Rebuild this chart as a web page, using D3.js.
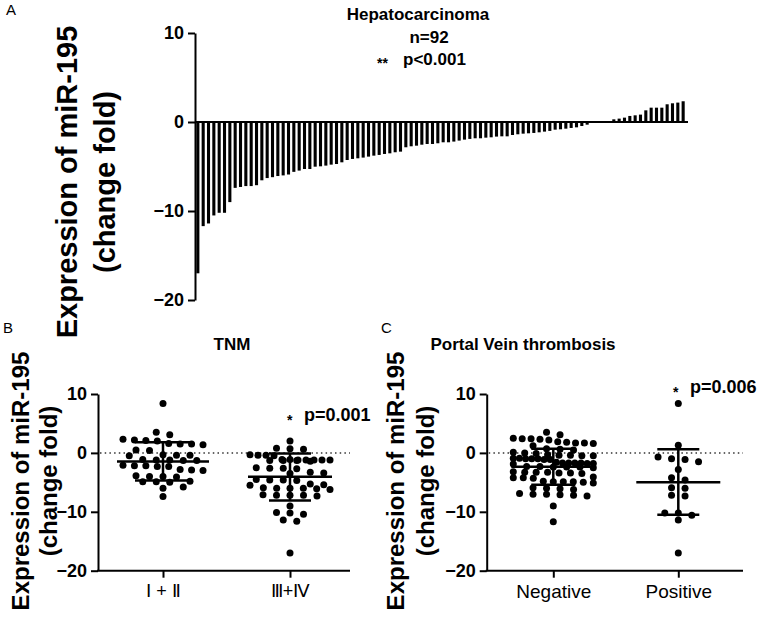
<!DOCTYPE html>
<html><head><meta charset="utf-8">
<script src="https://cdn.jsdelivr.net/npm/d3@7"></script>
<style>
body{margin:0;background:#fff;}
svg text{font-family:"Liberation Sans",Arial,sans-serif;fill:#000;}
</style></head><body>
<svg id="chart" width="767" height="620"></svg>
<script>
// ---------- DATA ----------
const barValues = [
 -17.0,-11.7,-11.4,-10.5,-10.2,-10.2,-9.0,-7.4,-7.3,-7.2,-7.2,-7.1,-6.55,-6.3,-6.2,-6.07,-6.0,-5.9,-5.6,
 -5.46,-5.28,-5.28,-5.02,-4.98,-4.9,-4.79,-4.72,-4.53,-4.27,-4.15,-4.08,-4.0,-3.89,-3.78,-3.7,-3.59,-3.52,-3.4,-3.33,-2.84,-2.73,-2.66,-2.55,-2.47,
 -2.47,-2.39,-2.28,-2.28,-2.2,-2.09,-1.98,-1.9,-1.83,-1.83,-1.76,-1.72,-1.64,-1.61,-1.61,-1.46,-1.38,-1.31,-1.27,-1.23,-1.16,-1.08,-1.0,
 -0.86,-0.82,-0.75,-0.67,-0.6,-0.45,-0.3,
 0,0,0,0,
 0.3,0.38,0.49,0.68,0.75,0.83,1.31,1.61,1.61,1.61,1.99,2.1,2.18,2.33
];
const barTicks = [10,0,-10,-20];

const tnmCategories = ["Ⅰ + Ⅱ","Ⅲ+Ⅳ"];
const tnmStageI_II = [8.4,3.5,3.1,2.3,2.1,2.2,2.0,1.6,1.5,1.4,1.5,0.5,0.4,-0.4,-0.3,-0.5,-0.4,
 -1.2,-1.3,-1.1,-1.3,-1.2,-2.2,-2.3,-2.1,-2.3,-2.2,-2.9,-2.8,-3.0,-3.9,-4.0,-4.1,-4.0,
 -4.8,-4.9,-5.0,-4.9,-5.8,-6.0,-7.4];
const tnmStageIII_IV = [2.0,0.7,0.6,0.8,-0.4,-0.3,-0.5,-0.4,
 -1.2,-1.3,-1.1,-1.2,-1.4,-1.2,-1.3,-1.1,-1.2,-1.3,-1.2,
 -2.6,-2.7,-2.5,-2.6,-3.4,-3.3,-3.5,-4.6,-4.5,-4.7,-4.6,-5.4,-5.3,-5.5,
 -6.0,-6.1,-5.9,-6.0,-6.2,-6.0,-7.2,-7.1,-7.3,-7.2,-7.2,-9.0,-10.2,-10.1,-10.4,-11.4,-11.6,-17.0];
const tnmMean = [-1.45,-4.07];
const tnmSdUpper = [1.8,-0.1];
const tnmSdLower = [-4.7,-8.1];

const pvtCategories = ["Negative","Positive"];
const pvtNegative = [3.5,3.1,2.4,2.3,2.5,2.2,2.4,1.7,1.8,1.6,1.7,1.9,1.2,0.6,0.5,0.7,0.0,0.1,-0.1,
 -0.4,-0.5,-0.3,-0.4,-0.5,-1.0,-0.9,-1.1,-1.0,-0.9,-1.0,-1.1,
 -1.7,-1.8,-1.6,-1.7,-1.9,-1.7,-1.8,-1.7,-2.4,-2.3,-2.5,-2.4,-2.3,-2.4,
 -3.3,-3.4,-3.2,-3.3,-3.5,-3.4,-3.3,-4.2,-4.1,-4.3,-4.2,-4.9,-5.0,-4.8,-4.9,-5.1,-4.9,
 -6.0,-6.1,-5.9,-6.2,-7.0,-7.1,-6.9,-7.2,-7.3,-7.0,-9.0,-11.7];
const pvtPositive = [8.4,1.3,-0.7,-1.0,-1.1,-1.5,-2.8,-4.2,-4.6,-5.9,-6.0,-7.2,-7.3,-10.2,-10.2,-10.6,-11.4,-17.0];
const pvtMean = [-2.35,-5.0];
const pvtSdUpper = [0.7,0.6];
const pvtSdLower = [-5.4,-10.5];

const scatterTicks = [10,0,-10,-20];

// ---------- DRAW ----------
const svg = d3.select("#chart");
const FONT = '"Liberation Sans",Arial,sans-serif';

function styleAxis(g, fs){
  g.selectAll("path.domain").attr("stroke","#000").attr("stroke-width",2);
  g.selectAll(".tick line").attr("stroke","#000").attr("stroke-width",2);
  g.selectAll(".tick text").attr("font-family",FONT).attr("font-size",fs).attr("font-weight","bold").attr("fill","#000");
}

function yLabel(x1,x2,yc,fs){
  const g = svg.append("g");
  [["Expression of miR-195",x1],["(change fold)",x2]].forEach(([t,x])=>{
    g.append("text").attr("transform",`translate(${x},${yc}) rotate(-90)`)
      .attr("text-anchor","middle").attr("font-size",fs).attr("font-weight","bold").text(t);
  });
}

// ---- Panel A ----
const yA = d3.scaleLinear().domain([-20,10]).range([300,33]);
const xA = d3.scaleBand().domain(d3.range(barValues.length)).range([196.3,684.7]).paddingInner(0.42).paddingOuter(0);
const axA = svg.append("g").attr("transform","translate(195,0)")
  .call(d3.axisLeft(yA).tickValues(barTicks).tickSize(7).tickSizeOuter(0).tickPadding(4));
styleAxis(axA,18);
svg.append("g").selectAll("rect").data(barValues).join("rect")
  .attr("x",(d,i)=>xA(i)).attr("width",xA.bandwidth())
  .attr("y",d=>Math.min(yA(d),yA(0))).attr("height",d=>Math.abs(yA(d)-yA(0)))
  .attr("fill","#000");
svg.append("line").attr("x1",195).attr("x2",688).attr("y1",yA(0)).attr("y2",yA(0)).attr("stroke","#000").attr("stroke-width",2);
yLabel(76.5,114.5,182,29);
svg.append("text").attr("x",6).attr("y",15).attr("font-size",15).text("A");
svg.append("text").attr("x",418).attr("y",20).attr("text-anchor","middle").attr("font-size",17).attr("font-weight","bold").text("Hepatocarcinoma");
svg.append("text").attr("x",429).attr("y",43).attr("text-anchor","middle").attr("font-size",17).attr("font-weight","bold").text("n=92");
svg.append("text").attr("x",377).attr("y",68).attr("font-size",14).attr("font-weight","bold").text("**");
svg.append("text").attr("x",403).attr("y",65).attr("font-size",17).attr("font-weight","bold").text("p<0.001");

// ---- scatter panels ----
function swarm(values, y, cx, rowH, maxW, maxSp){
  const pts = values.map(v=>({v, y:y(v)})).sort((a,b)=>a.y-b.y);
  const rows=[]; let cur=null;
  pts.forEach(p=>{ if(!cur || p.y-cur.y0>rowH){cur={y0:p.y,pts:[]};rows.push(cur);} cur.pts.push(p); });
  rows.forEach(r=>{
    const n=r.pts.length; const sp = n>1?Math.min(maxSp,maxW/(n-1)):0;
    r.pts.forEach((p,i)=>{p.x = cx+(i-(n-1)/2)*sp;});
  });
  return pts;
}

function scatterPanel(o){
  const y = d3.scaleLinear().domain([-20,10]).range([570.7,394]);
  const x = d3.scalePoint().domain(o.cats).range(o.catRange);
  const ax = svg.append("g").attr("transform",`translate(${o.axisX},0)`)
    .call(d3.axisLeft(y).tickValues(scatterTicks).tickSize(7).tickSizeOuter(0).tickPadding(4));
  styleAxis(ax,18);
  svg.append("line").attr("x1",o.axisX-1).attr("x2",o.xEnd).attr("y1",y(-20)).attr("y2",y(-20)).attr("stroke","#000").attr("stroke-width",2);
  const axx = svg.append("g").attr("transform",`translate(0,${y(-20)})`)
    .call(d3.axisBottom(x).tickSize(7).tickSizeOuter(0).tickPadding(7));
  axx.select("path.domain").remove();
  axx.selectAll(".tick line").attr("stroke","#000").attr("stroke-width",2);
  axx.selectAll(".tick text").attr("font-family",o.catFont).attr("font-size",o.catSize).attr("fill","#000");
  svg.append("line").attr("x1",o.axisX+2).attr("x2",o.xEnd).attr("y1",y(0)).attr("y2",y(0))
    .attr("stroke","#333").attr("stroke-width",1.5).attr("stroke-dasharray","1.5,3.2");
  o.groups.forEach((vals,gi)=>{
    const cx = x(o.cats[gi]);
    const pts = swarm(vals,y,cx,5.5,80,13.5);
    svg.append("g").selectAll("circle").data(pts).join("circle")
      .attr("cx",d=>d.x).attr("cy",d=>d.y).attr("r",3.5).attr("fill","#000");
    const g = svg.append("g").attr("stroke","#000").attr("stroke-width",2.5);
    g.append("line").attr("x1",cx-o.meanHalf[gi]).attr("x2",cx+o.meanHalf[gi]).attr("y1",y(o.mean[gi])).attr("y2",y(o.mean[gi]));
    g.append("line").attr("x1",cx).attr("x2",cx).attr("y1",y(o.up[gi])).attr("y2",y(o.lo[gi]));
    [o.up[gi],o.lo[gi]].forEach(v=>g.append("line").attr("x1",cx-o.capHalf[gi]).attr("x2",cx+o.capHalf[gi]).attr("y1",y(v)).attr("y2",y(v)));
  });
}

scatterPanel({cats:tnmCategories, catRange:[163,290], axisX:98, xEnd:350,
  groups:[tnmStageI_II,tnmStageIII_IV], mean:tnmMean, up:tnmSdUpper, lo:tnmSdLower,
  meanHalf:[46,42], capHalf:[28,21], catFont:'"DejaVu Sans",sans-serif', catSize:18});
scatterPanel({cats:pvtCategories, catRange:[553.3,678.3], axisX:486.7, xEnd:743,
  groups:[pvtNegative,pvtPositive], mean:pvtMean, up:pvtSdUpper, lo:pvtSdLower,
  meanHalf:[42,42], capHalf:[22,21], catFont:FONT, catSize:19});

yLabel(28.5,56.5,481,24);
yLabel(403.5,433.5,481,24);
svg.append("text").attr("x",3).attr("y",333).attr("font-size",15).text("B");
svg.append("text").attr("x",381).attr("y",333).attr("font-size",15).text("C");
svg.append("text").attr("x",232).attr("y",350).attr("text-anchor","middle").attr("font-size",17).attr("font-weight","bold").text("TNM");
svg.append("text").attr("x",523).attr("y",350).attr("text-anchor","middle").attr("font-size",17).attr("font-weight","bold").text("Portal Vein thrombosis");
svg.append("text").attr("x",287).attr("y",425).attr("font-size",14).attr("font-weight","bold").text("*");
svg.append("text").attr("x",304).attr("y",421).attr("font-size",18).attr("font-weight","bold").text("p=0.001");
svg.append("text").attr("x",673).attr("y",397).attr("font-size",14).attr("font-weight","bold").text("*");
svg.append("text").attr("x",690).attr("y",393).attr("font-size",18).attr("font-weight","bold").text("p=0.006");
</script>
</body></html>
